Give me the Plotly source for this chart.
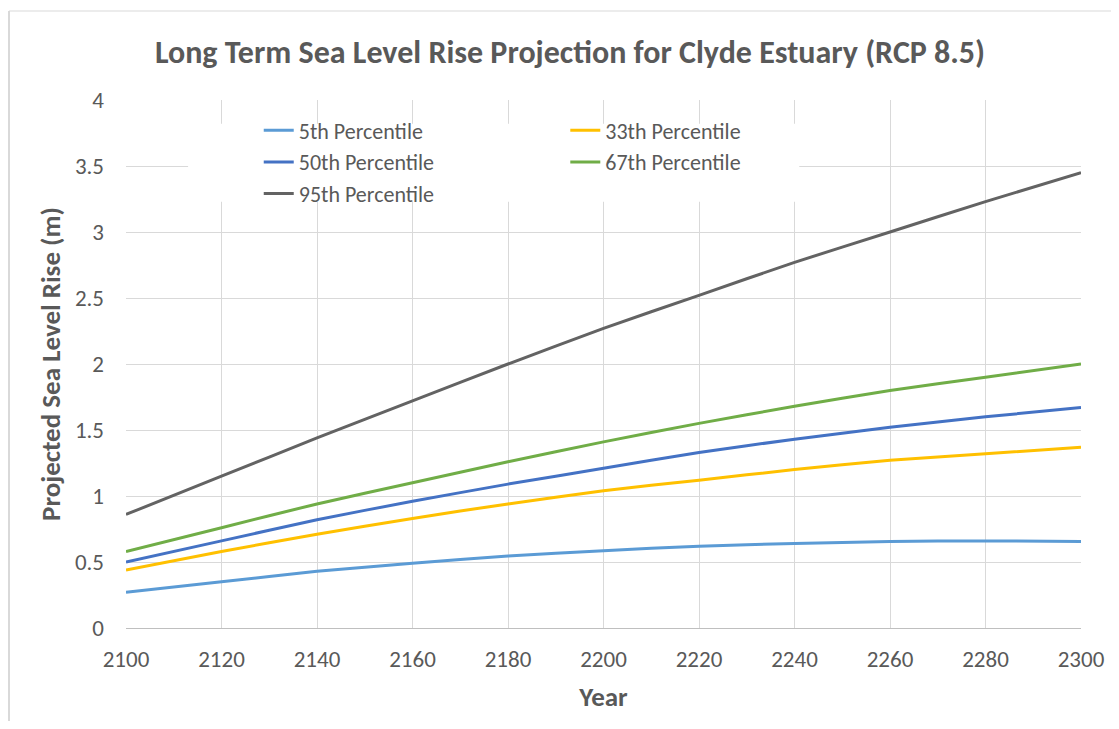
import plotly.graph_objects as go

years = [2100, 2120, 2140, 2160, 2180, 2200, 2220, 2240, 2260, 2280, 2300]
p5 = [0.27, 0.35, 0.43, 0.49, 0.545, 0.585, 0.62, 0.64, 0.655, 0.66, 0.655]
p33 = [0.44, 0.58, 0.71, 0.83, 0.94, 1.04, 1.12, 1.20, 1.27, 1.32, 1.37]
p50 = [0.50, 0.66, 0.82, 0.96, 1.09, 1.21, 1.33, 1.43, 1.52, 1.60, 1.67]
p67 = [0.58, 0.76, 0.94, 1.10, 1.26, 1.41, 1.55, 1.68, 1.80, 1.90, 2.00]
p95 = [0.86, 1.15, 1.44, 1.72, 2.00, 2.27, 2.52, 2.77, 3.00, 3.23, 3.45]

names = ["5th Percentile", "33th Percentile", "50th Percentile", "67th Percentile", "95th Percentile"]
series = [p5, p33, p50, p67, p95]
colors = ["#5B9BD5", "#FFC000", "#4472C4", "#70AD47", "#636363"]
legend_ids = ["legend", "legend2", "legend", "legend2", "legend"]

FONT = "Calibri, Carlito, Lato, sans-serif"
GREY = "#595959"

W, H = 1103, 713
ML, MR, MT, MB = 118, 30, 92, 93
PW, PH = W - ML - MR, H - MT - MB

fig = go.Figure()
for n, s, c, lg in zip(names, series, colors, legend_ids):
    fig.add_trace(go.Scatter(x=years, y=s, name=n, mode="lines",
                             line=dict(color=c, width=3, shape="spline", smoothing=0.6),
                             legend=lg))

legend_common = dict(bgcolor="rgba(0,0,0,0)", font=dict(family=FONT, size=22, color=GREY),
                     orientation="v", xanchor="left", yanchor="middle", tracegroupgap=0,
                     itemwidth=30)

fig.update_layout(
    width=W, height=H,
    paper_bgcolor="white", plot_bgcolor="white",
    margin=dict(l=ML, r=MR, t=MT, b=MB, autoexpand=False),
    font=dict(family=FONT, color=GREY),
    title=dict(text="<b>Long Term Sea Level Rise Projection for Clyde Estuary (RCP 8.5)</b>",
               xref="paper", x=(570 - 126) / 955, xanchor="center", y=1 - 44 / H, yanchor="middle",
               font=dict(family=FONT, size=32, color=GREY)),
    legend=dict(x=0.139, y=(628 - 162) / 528, **legend_common),
    legend2=dict(x=0.460, y=(628 - 146.5) / 528, **legend_common),
    xaxis=dict(range=[2100, 2300], tickvals=years, showgrid=True, gridcolor="#D9D9D9",
               gridwidth=1, showline=True, linecolor="#BFBFBF", linewidth=1, ticks="",
               zeroline=False, tickfont=dict(family=FONT, size=23, color=GREY),
               ticklabelstandoff=10, automargin=False,
               title=dict(text="<b>Year</b>", font=dict(family=FONT, size=27, color=GREY), standoff=15)),
    yaxis=dict(range=[0, 4], dtick=0.5, showgrid=True, gridcolor="#D9D9D9", gridwidth=1,
               zeroline=False, showline=False, ticks="", automargin=False,
               tickfont=dict(family=FONT, size=23, color=GREY), ticklabelstandoff=21,
               title=dict(text="<b>Projected Sea Level Rise (m)</b>",
                          font=dict(family=FONT, size=27, color=GREY), standoff=6)),
    shapes=[
        dict(type="rect", xref="x", yref="y", x0=2113, x1=2241, y0=3.23, y1=3.82,
             fillcolor="white", line=dict(width=0), layer="between"),
        dict(type="line", xref="paper", yref="paper", x0=-117 / PW, x1=1 + MR / PW,
             y0=1 + (MT - 3) / PH, y1=1 + (MT - 3) / PH,
             line=dict(color="#D9D9D9", width=1)),
        dict(type="line", xref="paper", yref="paper", x0=-117 / PW, x1=-117 / PW,
             y0=-MB / PH, y1=1 + (MT - 3) / PH,
             line=dict(color="#D9D9D9", width=2)),
    ],
)

fig.write_html("out.html")
